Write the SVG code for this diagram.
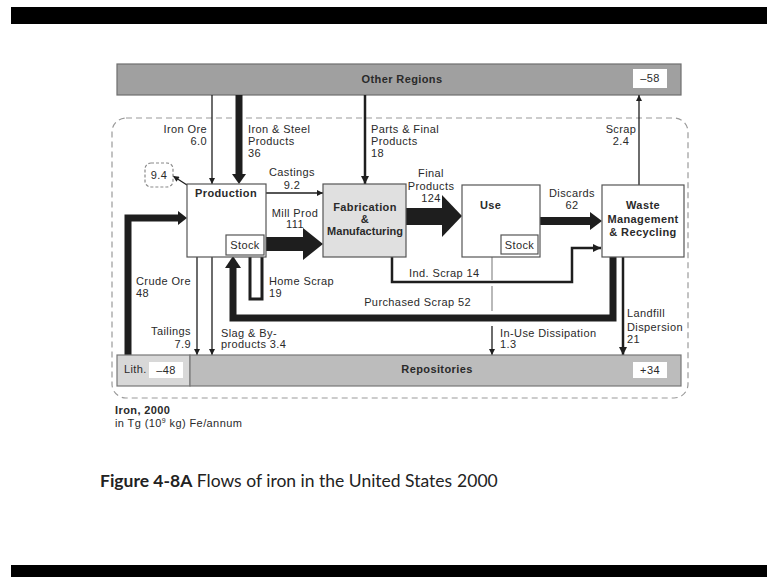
<svg xmlns="http://www.w3.org/2000/svg" width="767" height="577" viewBox="0 0 767 577">
<defs>
<style>
.t{font-family:"Liberation Sans",Arial,sans-serif;font-size:11px;fill:#2a2a2a;letter-spacing:0.4px}
.b{font-family:"Liberation Sans",Arial,sans-serif;font-size:11px;font-weight:bold;fill:#2a2a2a;letter-spacing:0.4px}
.m{text-anchor:middle}
.e{text-anchor:end}
.box{fill:#fff;stroke:#555;stroke-width:1.2}
.ln{fill:none;stroke:#1e1e1e;stroke-width:1.3}
.ln2{fill:none;stroke:#1e1e1e;stroke-width:2.5}
.thk{fill:none;stroke:#1e1e1e;stroke-width:7}
.fill{fill:#1e1e1e}
.cap{font-family:Lato,"Open Sans",sans-serif;font-size:17.5px;fill:#222}
</style>
<marker id="ah" viewBox="0 0 10 10" refX="10" refY="5" markerWidth="7" markerHeight="6" orient="auto" markerUnits="userSpaceOnUse"><path d="M0,0 L10,5 L0,10 z" fill="#1e1e1e"/></marker>
<marker id="ah2" viewBox="0 0 10 10" refX="10" refY="5" markerWidth="9" markerHeight="8" orient="auto" markerUnits="userSpaceOnUse"><path d="M0,0 L10,5 L0,10 z" fill="#1e1e1e"/></marker>
</defs>
<rect width="767" height="577" fill="#fff"/>
<rect x="11" y="7" width="756" height="17" fill="#000"/>
<rect x="11" y="565" width="756" height="12" fill="#000"/>

<rect x="112" y="118" width="576" height="280" rx="14" fill="none" stroke="#9a9a9a" stroke-width="1.2" stroke-dasharray="6 4"/>

<g id="other-regions">
<rect x="117" y="64" width="564" height="31" fill="#a0a0a0" stroke="#6e6e6e" stroke-width="1.2"/>
<text class="b m" x="402" y="83">Other Regions</text>
<rect x="633" y="69" width="34" height="19" fill="#fff"/>
<text class="t m" x="650" y="82">–58</text>
</g>

<g id="connectors">
<line class="ln" x1="212" y1="95" x2="212" y2="184" marker-end="url(#ah)"/>
<rect x="235.5" y="95" width="7" height="80" class="fill"/>
<polygon class="fill" points="232,174 246,174 239,184"/>
<line class="ln2" x1="365" y1="95" x2="365" y2="184" marker-end="url(#ah2)"/>
<line class="ln" x1="266" y1="193" x2="323" y2="193" marker-end="url(#ah)"/>
<rect x="264" y="237" width="40" height="14" class="fill"/>
<polygon class="fill" points="303,228 303,260 323,244"/>
<line class="ln" x1="244" y1="208" x2="244" y2="235" marker-end="url(#ah)"/>
<path class="thk" d="M128,355 V218 H179"/>
<polygon class="fill" points="178,211 178,225 187,218"/>
<line class="ln" x1="197" y1="257" x2="197" y2="355" marker-end="url(#ah)"/>
<line class="ln" x1="212" y1="257" x2="212" y2="355" marker-end="url(#ah)"/>
<path d="M250,257 V299 H262 V255" fill="none" stroke="#1e1e1e" stroke-width="3"/>
<path class="thk" d="M613,257 V318 H233 V267"/>
<polygon class="fill" points="225,268 241,268 233,256"/>
<rect x="406" y="208" width="37" height="17" class="fill"/>
<polygon class="fill" points="442,195 442,237 462,216"/>
<rect x="520" y="207" width="6" height="20" class="fill"/>
<polygon class="fill" points="515,226 531,226 523,235"/>
<rect x="540" y="217" width="51" height="8" class="fill"/>
<polygon class="fill" points="590,212 590,230 602,221"/>
<path class="ln2" d="M392,257 V282 H572 V248 H601" marker-end="url(#ah2)"/>
<line x1="492" y1="257" x2="492" y2="280" stroke="#8a8a8a" stroke-width="1.2"/>
<line x1="492" y1="286" x2="492" y2="311" stroke="#8a8a8a" stroke-width="1.2"/>
<line class="ln" x1="492" y1="326" x2="492" y2="355" marker-end="url(#ah)"/>
<line class="ln2" x1="623" y1="257" x2="623" y2="355" marker-end="url(#ah2)"/>
<line class="ln" x1="639" y1="185" x2="639" y2="95" marker-end="url(#ah)"/>
<line class="ln" x1="187" y1="185" x2="173" y2="176" marker-end="url(#ah)" stroke-width="1"/>
</g>

<g id="labels">
<text class="t e" x="207" y="133">Iron Ore</text>
<text class="t e" x="207" y="145">6.0</text>
<text class="t" x="248" y="133">Iron &amp; Steel</text>
<text class="t" x="248" y="145">Products</text>
<text class="t" x="248" y="157">36</text>
<text class="t" x="371" y="133">Parts &amp; Final</text>
<text class="t" x="371" y="145">Products</text>
<text class="t" x="371" y="157">18</text>
<text class="t m" x="292" y="176">Castings</text>
<text class="t m" x="292" y="189">9.2</text>
<text class="t m" x="295" y="217">Mill Prod</text>
<text class="t m" x="295" y="228">111</text>
<text class="t e" x="240" y="227">1.3</text>
<text class="t m" x="431" y="177">Final</text>
<text class="t m" x="431" y="190">Products</text>
<text class="t m" x="431" y="202">124</text>
<text class="t m" x="572" y="197">Discards</text>
<text class="t m" x="572" y="209">62</text>
<text class="t e" x="508" y="228">61</text>
<text class="t m" x="621" y="133">Scrap</text>
<text class="t m" x="621" y="145">2.4</text>
<text class="t" x="136" y="285">Crude Ore</text>
<text class="t" x="136" y="297">48</text>
<text class="t" x="269" y="285">Home Scrap</text>
<text class="t" x="269" y="297">19</text>
<text class="t e" x="191" y="335">Tailings</text>
<text class="t e" x="191" y="348">7.9</text>
<text class="t" x="221" y="337">Slag &amp; By-</text>
<text class="t" x="221" y="348">products 3.4</text>
<text class="t" x="409" y="277">Ind. Scrap 14</text>
<text class="t e" x="471" y="306">Purchased Scrap 52</text>
<text class="t" x="500" y="337">In-Use Dissipation</text>
<text class="t" x="500" y="348">1.3</text>
<text class="t" x="627" y="317">Landfill</text>
<text class="t" x="627" y="331">Dispersion</text>
<text class="t" x="627" y="343">21</text>
</g>

<g id="node-9-4">
<rect x="145" y="163" width="28" height="24" rx="6" fill="#fff" stroke="#8a8a8a" stroke-width="1.2" stroke-dasharray="3 2"/>
<text class="t m" x="159" y="179">9.4</text>
</g>

<g id="production">
<rect class="box" x="187" y="184" width="79" height="73"/>
<text class="b m" x="226" y="197">Production</text>
<rect class="box" x="226" y="235" width="38" height="20" stroke="#666"/>
<text class="t m" x="245" y="249">Stock</text>
</g>

<g id="fabrication">
<rect x="323" y="184" width="83" height="73" fill="#e0e0e0" stroke="#555" stroke-width="1.2"/>
<text class="b m" x="365" y="211">Fabrication</text>
<text class="b m" x="365" y="223">&amp;</text>
<text class="b m" x="365" y="235" style="letter-spacing:0">Manufacturing</text>
</g>

<g id="use">
<rect class="box" x="462" y="185" width="78" height="72"/>
<text class="b" x="480" y="209">Use</text>
<rect class="box" x="501" y="235" width="37" height="19" stroke="#666"/>
<text class="t m" x="519.5" y="249">Stock</text>
</g>

<g id="waste">
<rect class="box" x="602" y="185" width="82" height="72"/>
<text class="b m" x="643" y="209">Waste</text>
<text class="b m" x="643" y="223">Management</text>
<text class="b m" x="643" y="236">&amp; Recycling</text>
</g>

<g id="lithosphere">
<rect x="117" y="355" width="73" height="31" fill="#d8d8d8" stroke="#777" stroke-width="1.2"/>
<text class="t" x="124" y="373">Lith.</text>
<rect x="149" y="362" width="34" height="16" fill="#fff"/>
<text class="t m" x="166" y="374">–48</text>
</g>

<g id="repositories">
<rect x="190" y="355" width="491" height="31" fill="#bcbcbc" stroke="#777" stroke-width="1.2"/>
<text class="b m" x="437" y="373">Repositories</text>
<rect x="633" y="362" width="34" height="16" fill="#fff"/>
<text class="t m" x="650" y="374">+34</text>
</g>

<text class="b" x="115" y="414">Iron, 2000</text>
<text class="t" x="115" y="427">in Tg (10<tspan font-size="7" dy="-4">9</tspan><tspan dy="4"> kg) Fe/annum</tspan></text>

<text class="cap" x="100" y="487"><tspan font-weight="bold">Figure 4-8A</tspan> Flows of iron in the United States<tspan dx="5">2000</tspan></text>
</svg>
